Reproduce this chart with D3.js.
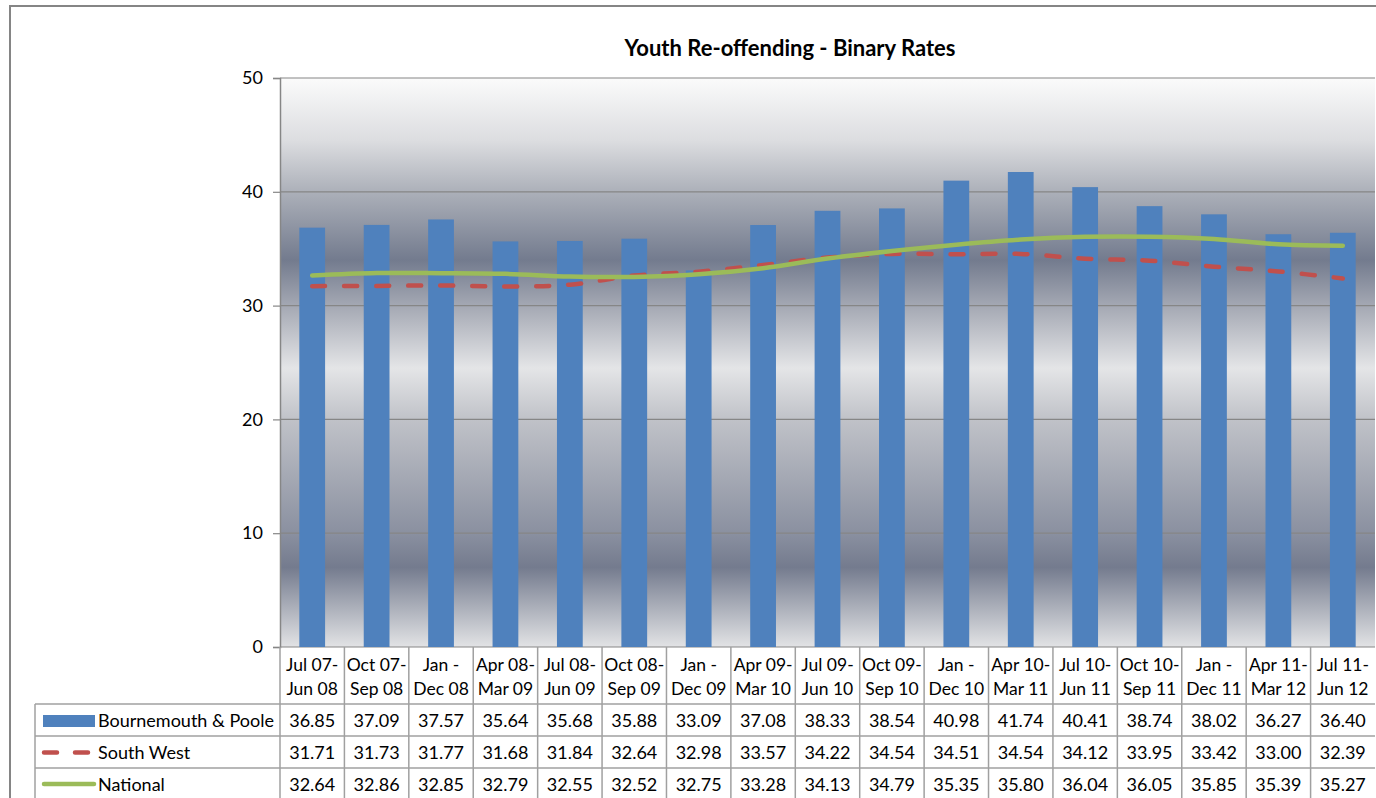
<!DOCTYPE html>
<meta charset="utf-8">
<style>
body { margin: 0; background: #fff; }
text { font-family: Lato, "Open Sans", sans-serif; fill: #000; }
</style>
<body>
<script src="https://cdnjs.cloudflare.com/ajax/libs/d3/7.8.5/d3.min.js"></script>
<script>

// categories (two lines each)
var categories = ["Jul 07-\nJun 08", "Oct 07-\nSep 08", "Jan -\nDec 08", "Apr 08-\nMar 09",
  "Jul 08-\nJun 09", "Oct 08-\nSep 09", "Jan -\nDec 09", "Apr 09-\nMar 10", "Jul 09-\nJun 10",
  "Oct 09-\nSep 10", "Jan -\nDec 10", "Apr 10-\nMar 11", "Jul 10-\nJun 11", "Oct 10-\nSep 11",
  "Jan -\nDec 11", "Apr 11-\nMar 12", "Jul 11-\nJun 12"];

var bournemouth = [36.85, 37.09, 37.57, 35.64, 35.68, 35.88, 33.09, 37.08, 38.33, 38.54, 40.98, 41.74, 40.41, 38.74, 38.02, 36.27, 36.40];
var southWest   = [31.71, 31.73, 31.77, 31.68, 31.84, 32.64, 32.98, 33.57, 34.22, 34.54, 34.51, 34.54, 34.12, 33.95, 33.42, 33.00, 32.39];
var national    = [32.64, 32.86, 32.85, 32.79, 32.55, 32.52, 32.75, 33.28, 34.13, 34.79, 35.35, 35.80, 36.04, 36.05, 35.85, 35.39, 35.27];

var seriesNames = ["Bournemouth & Poole", "South West", "National"];
var yTicks = [0, 10, 20, 30, 40, 50];
var title = "Youth Re-offending - Binary Rates";

// layout
var W = 1376, H = 798;
var plot = {left: 280, right: 1375, top: 78, bottom: 647};
var tableLeft = 35, rowTop = 704, rowH = 32;

var svg = d3.select("body").append("svg")
  .attr("width", W).attr("height", H);

// outer chart frame
svg.append("rect")
  .attr("x", 10).attr("y", 6).attr("width", W + 20).attr("height", H + 20)
  .attr("fill", "#fff").attr("stroke", "#858585").attr("stroke-width", 2);

// scales
var x = d3.scaleBand().domain(categories).range([plot.left, plot.right])
  .paddingInner(0.6).paddingOuter(0.3);
var step = x.step();
var cx = function(d) { return x(d) + x.bandwidth() / 2; };
var y = d3.scaleLinear().domain([0, 50]).range([plot.bottom, plot.top]);

// background gradient of the plot area
var grad = svg.append("defs").append("linearGradient")
  .attr("id", "bg").attr("gradientUnits", "userSpaceOnUse")
  .attr("x1", 0).attr("x2", 0).attr("y1", plot.top).attr("y2", plot.bottom);
[[0, "#fbfbfb"], [0.11, "#dcdde0"], [0.2, "#acb0b9"], [0.32, "#737b8e"], [0.4, "#a4a8b3"],
 [0.51, "#e4e5e7"], [0.6, "#c0c2c8"], [0.8, "#8a90a0"], [0.86, "#747b8e"], [1, "#e2e3e5"]]
  .forEach(function(s) {
    grad.append("stop").attr("offset", s[0]).attr("stop-color", s[1]);
  });

svg.append("rect")
  .attr("x", plot.left).attr("y", plot.top)
  .attr("width", plot.right - plot.left).attr("height", plot.bottom - plot.top)
  .attr("fill", "url(#bg)");

// gridlines
svg.append("g").selectAll("line").data(yTicks).join("line")
  .attr("x1", plot.left).attr("x2", plot.right)
  .attr("y1", function(d) { return y(d); }).attr("y2", function(d) { return y(d); })
  .attr("stroke", "#868686").attr("stroke-width", 1.2);

// y axis
var yAxis = svg.append("g")
  .attr("transform", "translate(" + plot.left + ",0)")
  .call(d3.axisLeft(y).tickValues(yTicks).tickSize(7).tickPadding(10));
yAxis.select(".domain").attr("stroke", "#868686").attr("stroke-width", 1.5);
yAxis.selectAll(".tick line").attr("stroke", "#868686").attr("stroke-width", 1.2);
yAxis.selectAll(".tick text").style("font-size", "18px").style("font-family", "Lato, sans-serif").attr("fill", "#000");

// bars
svg.append("g").selectAll("rect").data(bournemouth).join("rect")
  .attr("x", function(d, i) { return x(categories[i]); })
  .attr("width", x.bandwidth())
  .attr("y", function(d) { return y(d); })
  .attr("height", function(d) { return y(0) - y(d); })
  .attr("fill", "#4f81bd");

// lines
var line = d3.line()
  .x(function(d, i) { return cx(categories[i]); })
  .y(function(d) { return y(d); })
  .curve(d3.curveCatmullRom.alpha(0));

svg.append("path").datum(southWest)
  .attr("d", line).attr("fill", "none")
  .attr("stroke", "#c0504d").attr("stroke-width", 4.5)
  .attr("stroke-dasharray", "13,19").attr("stroke-linecap", "round");

svg.append("path").datum(national)
  .attr("d", line).attr("fill", "none")
  .attr("stroke", "#9bbb59").attr("stroke-width", 4.5)
  .attr("stroke-linecap", "round");

// title
svg.append("text")
  .attr("x", 790).attr("y", 56)
  .attr("text-anchor", "middle")
  .style("font-size", "22px").style("font-weight", "bold")
  .text(title);

// data table
var tbl = svg.append("g");
var borderCol = "#a0a0a0";

// column separators (header + body)
var colEdges = categories.map(function(d, i) { return plot.left + i * step; });
tbl.selectAll(".vsep").data(colEdges).join("line")
  .attr("x1", function(d) { return d; }).attr("x2", function(d) { return d; })
  .attr("y1", plot.bottom).attr("y2", H)
  .attr("stroke", borderCol).attr("stroke-width", 1.5);

// left border of legend column
tbl.append("line")
  .attr("x1", tableLeft).attr("x2", tableLeft)
  .attr("y1", rowTop).attr("y2", H)
  .attr("stroke", borderCol).attr("stroke-width", 1.5);

// row lines
tbl.selectAll(".hsep").data([0, 1, 2, 3]).join("line")
  .attr("x1", tableLeft).attr("x2", plot.right)
  .attr("y1", function(d) { return rowTop + d * rowH; })
  .attr("y2", function(d) { return rowTop + d * rowH; })
  .attr("stroke", borderCol).attr("stroke-width", 1.5);

// header labels
categories.forEach(function(c) {
  var t = tbl.append("text")
    .attr("x", cx(c)).attr("y", 671)
    .attr("text-anchor", "middle")
    .style("font-size", "17.5px");
  c.split("\n").forEach(function(part, j) {
    t.append("tspan").attr("x", cx(c)).attr("dy", j === 0 ? 0 : 23.5).text(part);
  });
});

// values
[bournemouth, southWest, national].forEach(function(vals, r) {
  tbl.selectAll(".v" + r).data(vals).join("text")
    .attr("x", function(d, i) { return cx(categories[i]); })
    .attr("y", rowTop + r * rowH + 22.5)
    .attr("text-anchor", "middle")
    .style("font-size", "18px")
    .text(function(d) { return d.toFixed(2); });
});

// legend keys
var keyX = 42, keyW = 52;
tbl.append("rect").attr("x", keyX + 1).attr("y", rowTop + 11)
  .attr("width", keyW).attr("height", 12).attr("fill", "#4f81bd");
tbl.append("line").attr("x1", keyX + 2).attr("x2", keyX + keyW)
  .attr("y1", rowTop + rowH + 16.5).attr("y2", rowTop + rowH + 16.5)
  .attr("stroke", "#c0504d").attr("stroke-width", 4.5)
  .attr("stroke-dasharray", "13,18").attr("stroke-linecap", "round");
tbl.append("line").attr("x1", keyX + 2).attr("x2", keyX + keyW)
  .attr("y1", rowTop + 2 * rowH + 16).attr("y2", rowTop + 2 * rowH + 16)
  .attr("stroke", "#9bbb59").attr("stroke-width", 4.5)
  .attr("stroke-linecap", "round");

tbl.selectAll(".lg").data(seriesNames).join("text")
  .attr("x", 98)
  .attr("y", function(d, i) { return rowTop + i * rowH + 22.5; })
  .style("font-size", "18px")
  .text(function(d) { return d; });

</script>
</body>
